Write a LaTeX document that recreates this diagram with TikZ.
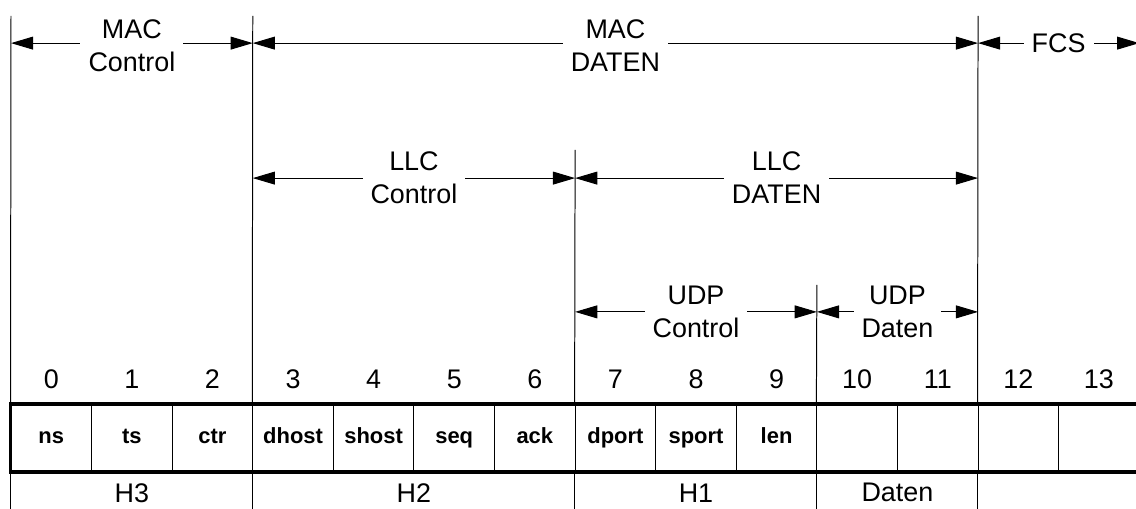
\documentclass[tikz,border=0pt]{standalone}
\usepackage{fontspec}
\setmainfont{Liberation Sans}
\usetikzlibrary{arrows.meta,positioning,calc}

\tikzset{
  thinline/.style={line width=0.7pt},
  frameline/.style={line width=2.8pt},
  cellbox/.style={draw, line width=0.7pt, minimum width=2cm, minimum height=1.65cm,
                  inner sep=0pt, text height=11pt, text depth=3.5pt,
                  font=\bfseries\fontsize{15.5}{18}\selectfont},
  dimline/.style={line width=0.7pt,
                  {Triangle[length=0.55cm,width=0.32cm]}-{Triangle[length=0.55cm,width=0.32cm]}},
  dimlabel/.style={fill=white, align=center, inner xsep=0.2cm, inner ysep=0pt,
                   font=\fontsize{19}{23.3}\selectfont},
  txt/.style={inner sep=0pt, font=\fontsize{19}{23.3}\selectfont},
}

\begin{document}
\begin{tikzpicture}
  \useasboundingbox (-0.273,-2.58) rectangle (27.92,10.05);

  % frame cells with field names and byte numbers
  \foreach \f [count=\i from 0] in {ns,ts,ctr,dhost,shost,seq,ack,dport,sport,len,{},{},{},{}} {
    \node[cellbox] (c\i) at (2*\i+1,-0.825) {\f};
    \node[txt, above=0.38cm of c\i] (n\i) {\i};
  }
  \draw[frameline] (c0.north west) rectangle (c13.south east);

  % boundary lines above the frame
  \coordinate (mac0) at (0,9.655);
  \coordinate (mac1) at (6,9.655);
  \coordinate (mac2) at (24,9.655);
  \coordinate (llc0) at (14,6.33);
  \coordinate (udp0) at (20,2.98);
  \draw[thinline] (mac0) -- (c0.north west);
  \draw[thinline] (mac1) -- (c3.north west);
  \draw[thinline] (mac2) -- (c12.north west);
  \draw[thinline] (llc0) -- (c7.north west);
  \draw[thinline] (udp0) -- (c10.north west);

  % ... and below it
  \foreach \k in {0,3,7,10,12}
    \draw[thinline] (c\k.south west) -- ++(0,-1);

  % MAC layer
  \path (0,8.98) coordinate (a0) (6,8.98) coordinate (a1)
        (24,8.98) coordinate (a2) (28,8.98) coordinate (a3);
  \draw[dimline] (a0) -- node[dimlabel, yshift=-0.06cm] (macctl) {MAC\\Control} (a1);
  \draw[dimline] (a1) -- node[dimlabel, yshift=-0.06cm] (macdat) {MAC\\DATEN} (a2);
  \draw[dimline] (a2) -- node[dimlabel] (fcs) {FCS} (a3);

  % LLC layer
  \path (6,5.63) coordinate (b0) (14,5.63) coordinate (b1) (24,5.63) coordinate (b2);
  \draw[dimline] (b0) -- node[dimlabel] (llcctl) {LLC\\Control} (b1);
  \draw[dimline] (b1) -- node[dimlabel] (llcdat) {LLC\\DATEN} (b2);

  % UDP layer
  \path (14,2.31) coordinate (u0) (20,2.31) coordinate (u1) (24,2.31) coordinate (u2);
  \draw[dimline] (u0) -- node[dimlabel] (udpctl) {UDP\\Control} (u1);
  \draw[dimline] (u1) -- node[dimlabel] (udpdat) {UDP\\Daten} (u2);

  % header names
  \node[txt] (h3) at (3,-2.18) {H3};
  \node[txt] (h2) at (10,-2.18) {H2};
  \node[txt] (h1) at (17,-2.18) {H1};
  \node[txt] (dat) at (22,-2.18) {Daten};
\end{tikzpicture}
\end{document}
